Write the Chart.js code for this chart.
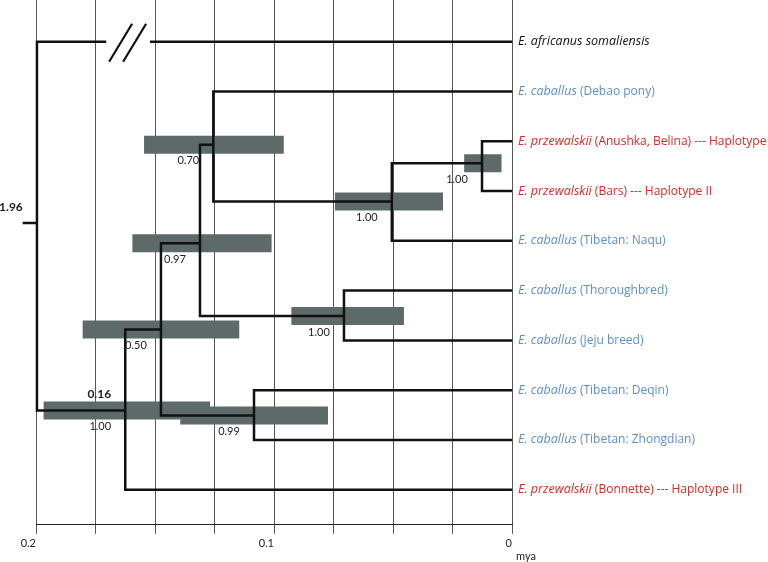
<!DOCTYPE html>
<html>
<head>
<meta charset="utf-8">
<script src="https://cdn.jsdelivr.net/npm/chart.js@4"></script>
<style>
  html, body { margin: 0; padding: 0; background: #fff; }
  #wrap { width: 768px; height: 562px; }
</style>
</head>
<body>
<div id="wrap"><canvas id="tree"></canvas></div>
<script>
// leaves, top to bottom (row index = y value)
var leafSpecies = ["E. africanus somaliensis", "E. caballus", "E. przewalskii", "E. przewalskii", "E. caballus",
  "E. caballus", "E. caballus", "E. caballus", "E. caballus", "E. przewalskii"];
var leafDetail = ["", " (Debao pony)", " (Anushka, Belina) --- Haplotype I", " (Bars) --- Haplotype II", " (Tibetan: Naqu)",
  " (Thoroughbred)", " (Jeju breed)", " (Tibetan: Deqin)", " (Tibetan: Zhongdian)", " (Bonnette) --- Haplotype III"];
var leafGroup = ["out", "cab", "prz", "prz", "cab", "cab", "cab", "cab", "cab", "prz"];

// internal nodes: age in mya, row position, children (leaf index or node name)
var nodeNames = ["A", "B", "C", "D", "E", "F", "G", "H", "root"];
var nodeAge = [0.0126, 0.0505, 0.1255, 0.1311, 0.0706, 0.1475, 0.1084, 0.1625, 0.1996];
var nodeRow = [2.44, 3.21, 2.07, 4.05, 5.51, 5.78, 7.51, 7.41, 3.64];
var nodeKids = [[2, 3], ["A", 4], [1, "B"], ["C", "E"], [5, 6], ["D", "G"], [7, 8], ["F", 9], [0, "H"]];

// 95% HPD of node ages, and posterior support
var hpdLow = [0.0044, 0.0290, 0.0959, 0.1010, 0.0454, 0.1146, 0.0773, 0.1269, null];
var hpdHigh = [0.0201, 0.0744, 0.1546, 0.1595, 0.0927, 0.1804, 0.1394, 0.1968, null];
var posterior = ["1.00", "1.00", "0.70", "0.97", "1.00", "0.50", "0.99", "1.00", null];
var nodeNote = [null, null, null, null, null, null, null, "0.16", "1.96"];

var rootStemAge = 0.2056;
var breakAges = [0.1705, 0.1521]; // axis break on the outgroup branch

var tickValues = [0.2, 0.1, 0];
var tickLabels = ["0.2", "0.1", "0"];

var FONT = "Lato";
var LEAF_FONT = "'Open Sans'";
var groupColor = { out: "#111111", cab: "#5b8fd4", prz: "#dc2a1f" };
var GAP = { x: null, y: null };

function nodeIndex(name) { return nodeNames.indexOf(name); }
function childPos(c) {
  if (typeof c === "number") return { x: 0, y: c };
  var k = nodeIndex(c);
  return { x: nodeAge[k], y: nodeRow[k] };
}

// branch lines
var treePts = [];
for (var i = 0; i < nodeNames.length; i++) {
  var a = childPos(nodeKids[i][0]);
  var b = childPos(nodeKids[i][1]);
  var age = nodeAge[i];
  treePts.push({ x: a.x, y: a.y });
  if (nodeKids[i][0] === 0) {
    treePts.push({ x: breakAges[1], y: a.y }, GAP, { x: breakAges[0], y: a.y });
  }
  treePts.push({ x: age, y: a.y }, { x: age, y: b.y }, { x: b.x, y: b.y }, GAP);
  if (nodeNames[i] === "root") {
    treePts.push({ x: rootStemAge, y: nodeRow[i] }, { x: age, y: nodeRow[i] }, GAP);
  }
}

// HPD bars
var hpdPts = [];
for (var j = 0; j < nodeNames.length; j++) {
  if (hpdLow[j] === null) continue;
  hpdPts.push({ x: hpdLow[j], y: nodeRow[j] }, { x: hpdHigh[j], y: nodeRow[j] }, GAP);
}

var annotate = {
  id: "annotate",
  afterDatasetsDraw: function(chart) {
    var ctx = chart.ctx, xs = chart.scales.x, ys = chart.scales.y;
    ctx.save();

    // posterior values and node notes
    ctx.textAlign = "center";
    ctx.textBaseline = "middle";
    ctx.fillStyle = "#222";
    for (var i = 0; i < nodeNames.length; i++) {
      var px = xs.getPixelForValue(nodeAge[i]);
      var py = ys.getPixelForValue(nodeRow[i]);
      if (posterior[i]) {
        ctx.font = "11px " + FONT;
        ctx.fillText(posterior[i], px - 25, py + 16);
      }
      if (nodeNote[i]) {
        ctx.font = "bold 12px " + FONT;
        ctx.fillText(nodeNote[i], px - 26, py - 16);
      }
    }

    // leaf names
    ctx.textAlign = "left";
    var x0 = xs.getPixelForValue(0) + 6;
    for (var k = 0; k < leafSpecies.length; k++) {
      var y = ys.getPixelForValue(k);
      ctx.fillStyle = groupColor[leafGroup[k]];
      ctx.font = "italic 12.5px " + LEAF_FONT;
      ctx.fillText(leafSpecies[k], x0, y);
      var w = ctx.measureText(leafSpecies[k]).width;
      ctx.font = "12px " + LEAF_FONT;
      ctx.fillText(leafDetail[k], x0 + w, y);
    }

    // break marks on the outgroup branch
    var bx = xs.getPixelForValue((breakAges[0] + breakAges[1]) / 2);
    var by = ys.getPixelForValue(0);
    ctx.strokeStyle = "#111";
    ctx.lineWidth = 2.2;
    ctx.beginPath();
    ctx.moveTo(bx - 19, by + 20); ctx.lineTo(bx + 4, by - 18);
    ctx.moveTo(bx - 5, by + 20); ctx.lineTo(bx + 18, by - 18);
    ctx.stroke();

    // unit
    ctx.fillStyle = "#222";
    ctx.textAlign = "center";
    ctx.font = "11px " + FONT;
    ctx.fillText("mya", xs.getPixelForValue(0) + 14, chart.height - 6);
    ctx.restore();
  }
};

new Chart(document.getElementById("tree"), {
  type: "line",
  data: {
    datasets: [
      {
        data: treePts,
        borderColor: "#111",
        borderWidth: 2.5,
        pointRadius: 0,
        spanGaps: false,
        clip: false,
        tension: 0
      },
      {
        data: hpdPts,
        borderColor: "#5e6a6a",
        borderWidth: 18,
        borderCapStyle: "butt",
        pointRadius: 0,
        spanGaps: false,
        tension: 0
      }
    ]
  },
  options: {
    responsive: true,
    maintainAspectRatio: false,
    animation: false,
    events: [],
    layout: { padding: { left: 36, right: 256, top: 0, bottom: 9 } },
    plugins: { legend: { display: false }, tooltip: { enabled: false } },
    scales: {
      x: {
        type: "linear",
        min: 0,
        max: 0.2,
        reverse: true,
        border: { display: true, color: "#222", width: 1 },
        grid: { color: "#555", lineWidth: 1, tickLength: 9, tickColor: "#555" },
        ticks: {
          stepSize: 0.025,
          autoSkip: false,
          maxRotation: 0,
          align: "end",
          color: "#222",
          font: { family: FONT, size: 11 },
          callback: function(v) {
            for (var i = 0; i < tickValues.length; i++) {
              if (Math.abs(v - tickValues[i]) < 1e-9) return tickLabels[i];
            }
            return "";
          }
        }
      },
      y: { type: "linear", min: -0.84, max: 9.706, reverse: true, display: false }
    }
  },
  plugins: [annotate]
});
</script>
</body>
</html>
